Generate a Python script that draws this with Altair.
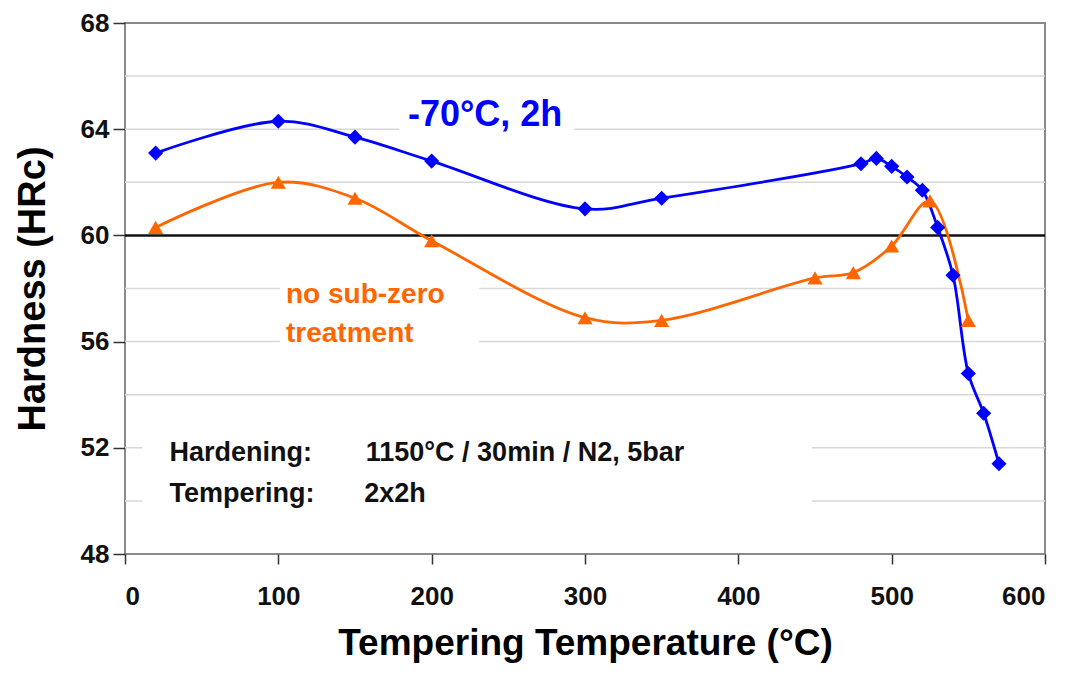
import altair as alt
import pandas as pd

# ---- data ----
temp_subzero = [20, 100, 150, 200, 300, 350, 480, 490, 500, 510, 520, 530, 540, 550, 560, 570]
hrc_subzero = [63.1, 64.3, 63.7, 62.8, 61.0, 61.4, 62.7, 62.9, 62.6, 62.2, 61.7, 60.3, 58.5, 54.8, 53.3, 51.4]

temp_nosub = [20, 100, 150, 200, 300, 350, 450, 475, 500, 525, 550]
hrc_nosub = [60.3, 62.0, 61.4, 59.8, 56.9, 56.8, 58.4, 58.6, 59.6, 61.3, 56.8]

series_names = ["-70°C, 2h", "no sub-zero treatment"]
series_colors = ["#0000FF", "#FF6600"]
series_shapes = ["diamond", "triangle-up"]

x_ticks = [0, 100, 200, 300, 400, 500, 600]
y_ticks = [48, 52, 56, 60, 64, 68]
y_grid = [50, 52, 54, 56, 58, 62, 64, 66]
ref_line = [60]

# annotation texts (x, y in data units)
ann_text = ["-70°C, 2h", "no sub-zero", "treatment", "Hardening:", "1150°C / 30min / N2, 5bar", "Tempering:", "2x2h"]
ann_x = [184.5, 105, 105, 29, 157, 29, 156]
ann_y = [64.55, 57.75, 56.3, 51.8, 51.8, 50.25, 50.25]
ann_color = ["#0000FF", "#FF6600", "#FF6600", "#111111", "#111111", "#111111", "#111111"]
ann_size = [36, 28, 28, 27, 27, 27, 27]

# white boxes where the gridlines are interrupted by the labels
box_x1 = [179, 101, 11.5]
box_x2 = [293, 231, 448]
box_y1 = [63.3, 55.4, 49.3]
box_y2 = [65.6, 58.7, 52.7]

FONT = "Liberation Sans"

df = pd.DataFrame(
    {"T": temp_subzero + temp_nosub,
     "HRc": hrc_subzero + hrc_nosub,
     "series": [series_names[0]] * len(temp_subzero) + [series_names[1]] * len(temp_nosub)}
)
ann = pd.DataFrame({"t": ann_text, "x": ann_x, "y": ann_y, "c": ann_color, "s": ann_size})
boxes = pd.DataFrame({"x1": box_x1, "x2": box_x2, "y1": box_y1, "y2": box_y2})

xscale = alt.Scale(domain=[0, 600], nice=False, zero=False)
yscale = alt.Scale(domain=[48, 68], nice=False, zero=False)

xaxis = alt.Axis(values=x_ticks, title="Tempering Temperature (°C)", grid=False, domain=False,
                 tickSize=10, tickWidth=1.5, tickColor="#333333",
                 labelFont=FONT, labelFontSize=26, labelFontWeight="bold", labelColor="#111111",
                 labelPadding=19, titleFont=FONT, titleFontSize=37, titleFontWeight="bold",
                 titleColor="#000000", titlePadding=16)
yaxis = alt.Axis(values=y_ticks, title="Hardness (HRc)", grid=False, domain=False,
                 tickSize=12, tickWidth=1.5, tickColor="#333333",
                 labelFont=FONT, labelFontSize=26, labelFontWeight="bold", labelColor="#111111",
                 labelPadding=4, titleFont=FONT, titleFontSize=38, titleFontWeight="bold",
                 titleColor="#000000", titlePadding=28)

grid = alt.Chart(pd.DataFrame({"g": y_grid})).mark_rule(color="#d8d8d8", strokeWidth=1.5).encode(
    y=alt.Y("g:Q", scale=yscale, axis=yaxis)
)
white = alt.Chart(boxes).mark_rect(color="white").encode(
    x=alt.X("x1:Q", scale=xscale, axis=xaxis), x2="x2:Q",
    y=alt.Y("y1:Q", scale=yscale), y2="y2:Q"
)
rule60 = alt.Chart(pd.DataFrame({"r": ref_line})).mark_rule(color="#111111", strokeWidth=2.5).encode(
    y=alt.Y("r:Q", scale=yscale)
)

color = alt.Color("series:N", scale=alt.Scale(domain=series_names, range=series_colors), legend=None)
shape = alt.Shape("series:N", scale=alt.Scale(domain=series_names, range=series_shapes), legend=None)

lines = alt.Chart(df).mark_line(interpolate="catmull-rom", strokeWidth=2.8).encode(
    x=alt.X("T:Q", scale=xscale), y=alt.Y("HRc:Q", scale=yscale), color=color, detail="series:N"
)
points = alt.Chart(df).mark_point(filled=True, opacity=1, size=230).encode(
    x=alt.X("T:Q", scale=xscale), y=alt.Y("HRc:Q", scale=yscale), color=color, shape=shape
)

texts = alt.Chart(ann).mark_text(align="left", baseline="middle", font=FONT, fontWeight="bold").encode(
    x=alt.X("x:Q", scale=xscale), y=alt.Y("y:Q", scale=yscale),
    text="t:N", color=alt.Color("c:N", scale=None), size=alt.Size("s:Q", scale=None)
)

chart = alt.layer(grid, white, rule60, lines, points, texts).properties(
    width=920, height=531,
    padding={"left": 117, "top": 15, "right": 10, "bottom": 113},
    autosize=alt.AutoSizeParams(type="none"),
    background="white",
).configure_view(stroke="#8a8a8a", strokeWidth=2)

chart.save("out.html", embed_options={"renderer": "svg", "actions": False})
